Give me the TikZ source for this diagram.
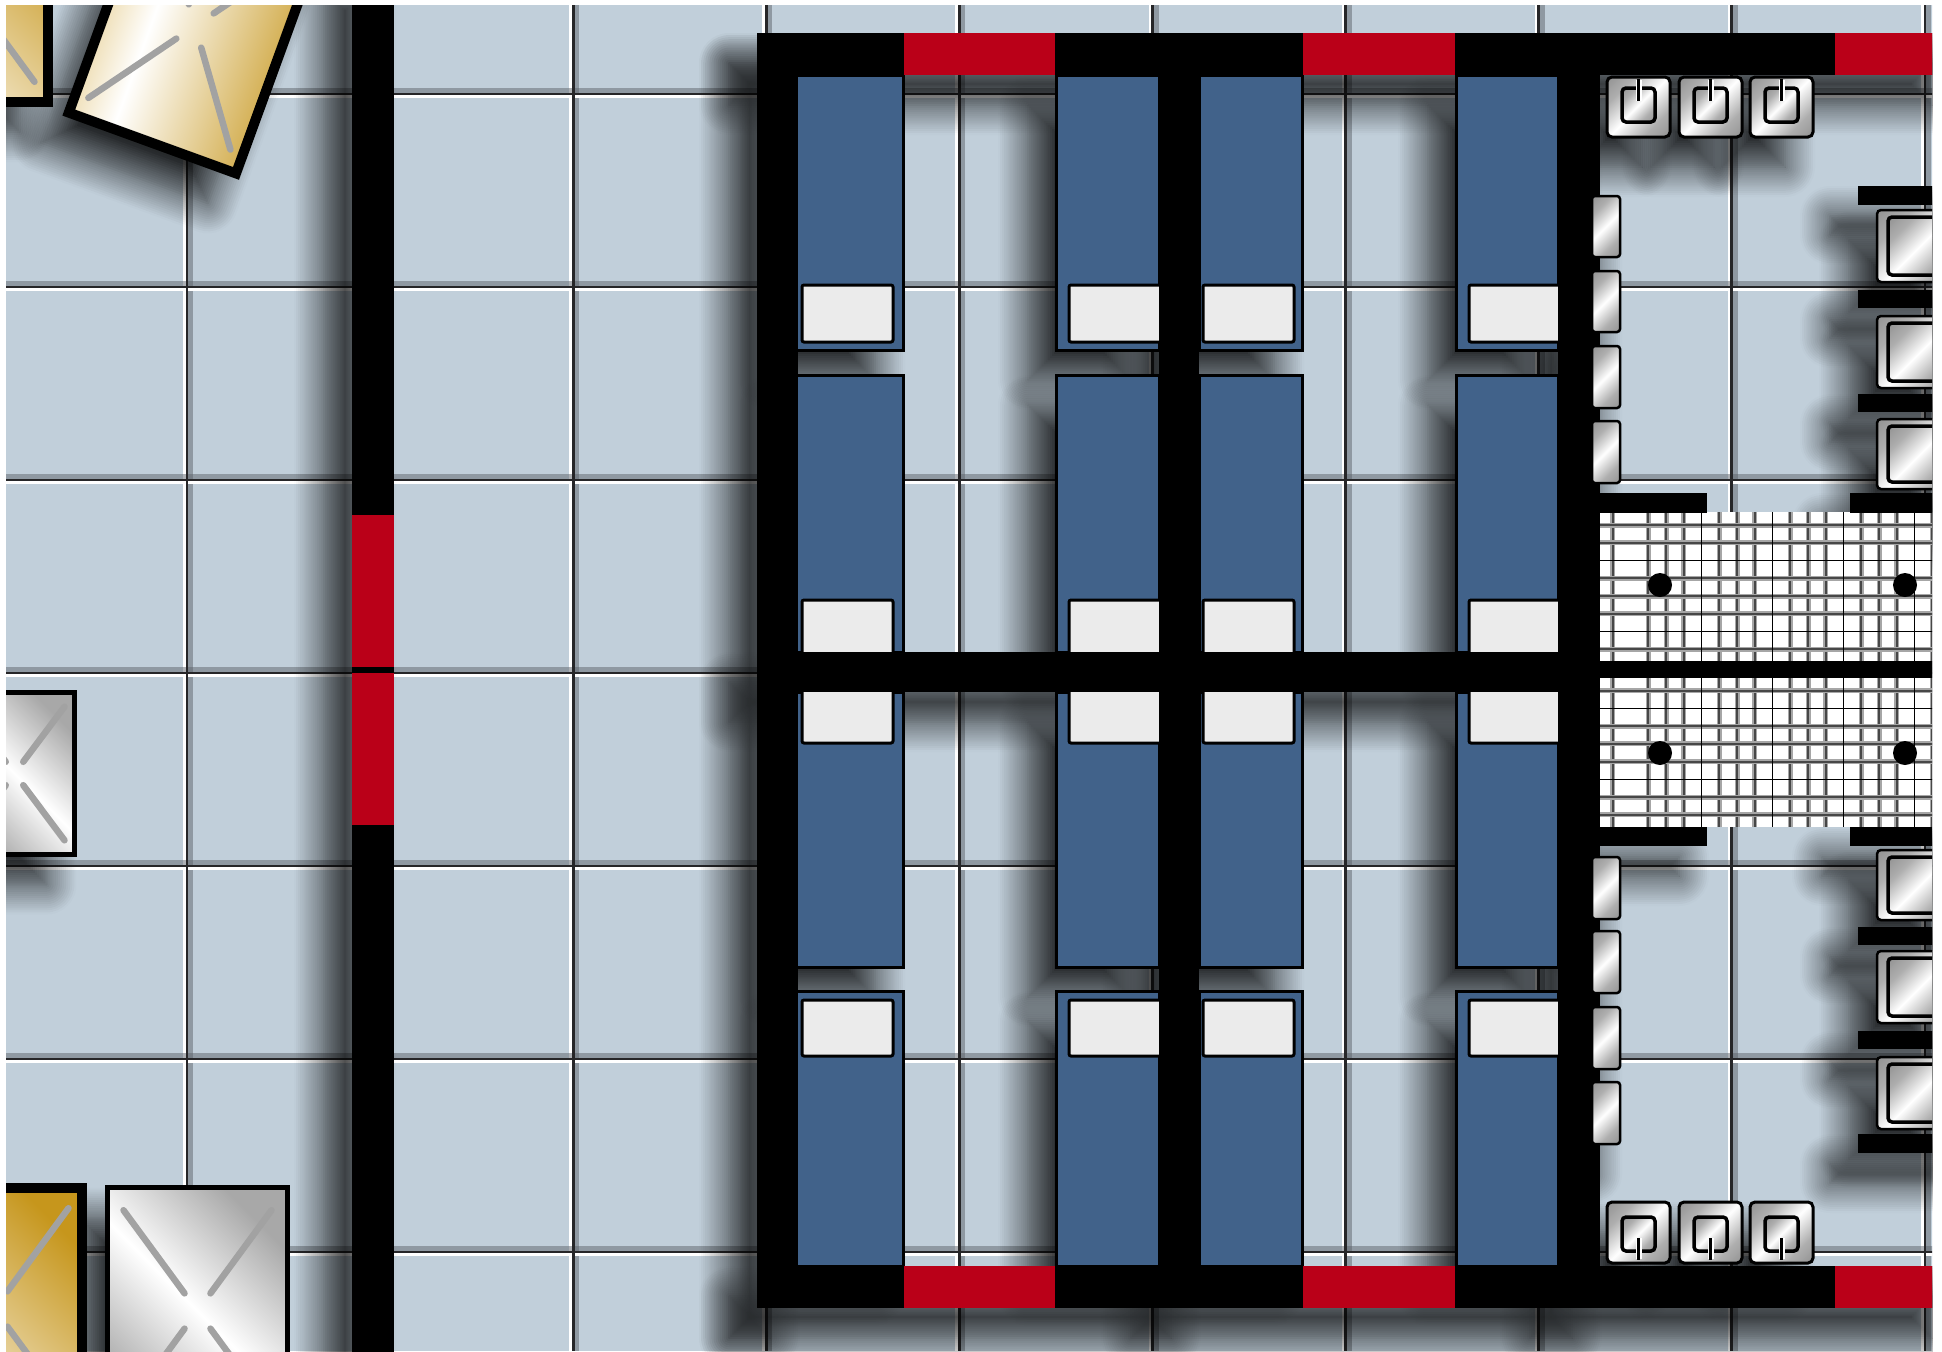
\documentclass[tikz,border=0pt]{standalone}
\usetikzlibrary{calc,shadows.blur}
\newdimen\pxl
\pxl=0.01cm
\definecolor{tile}{RGB}{193,207,218}
\definecolor{grout}{RGB}{38,38,40}
\definecolor{groutshade}{RGB}{95,100,108}
\definecolor{bedblue}{RGB}{65,98,138}
\definecolor{pillow}{RGB}{235,235,235}
\definecolor{doorred}{RGB}{186,0,24}
\definecolor{goldA}{RGB}{198,150,28}
\definecolor{goldB}{RGB}{225,195,120}
\definecolor{silverA}{RGB}{168,168,168}
\definecolor{chromeA}{RGB}{120,120,120}
\definecolor{spoke}{RGB}{162,162,162}
\pgfdeclarehorizontalshading{goldbar}{100bp}{color(0bp)=(goldB); color(25bp)=(goldB); color(42bp)=(white); color(75bp)=(goldA); color(100bp)=(goldA)}
\pgfdeclarehorizontalshading{goldfade}{100bp}{color(0bp)=(white!80!goldB); color(25bp)=(white!80!goldB); color(75bp)=(goldA); color(100bp)=(goldA)}
\pgfdeclarehorizontalshading{silver}{100bp}{color(0bp)=(silverA); color(25bp)=(silverA); color(50bp)=(white); color(75bp)=(silverA); color(100bp)=(silverA)}
\pgfdeclarehorizontalshading{chrome}{100bp}{color(0bp)=(chromeA); color(30bp)=(chromeA!60!white); color(50bp)=(white); color(70bp)=(chromeA!60!white); color(100bp)=(chromeA)}
\tikzset{
  castshadow/.style={blur shadow={shadow xshift=-28\pxl, shadow yshift=-30\pxl,
      shadow blur radius=30\pxl, shadow blur steps=15, shadow opacity=100}},
  wall/.style={fill=black},
  door/.style={fill=doorred},
  bed/.style={fill=bedblue, draw=black, line width=3\pxl},
  pillowbox/.style={fill=pillow, draw=black, line width=3\pxl, rounded corners=2\pxl},
  chromefill/.style={shade, shading=chrome, shading angle=-45},
  fixture/.style={chromefill, draw=black, line width=2.5\pxl, rounded corners=4\pxl},
  innerbox/.style={chromefill, draw=black, line width=3.5\pxl, rounded corners=4\pxl},
  spokeline/.style={draw=spoke, line width=6.5\pxl, line cap=round},
  goldcrate/.style={shade, draw=black, line width=10\pxl, line join=miter},
  silvercrate/.style={shade, shading=silver, shading angle=45, draw=black, line width=5\pxl},
  minorline/.style={draw=black!72, line width=2\pxl, preaction={draw=black!35, line width=5\pxl}},
  majorline/.style={draw=black, line width=1.3\pxl},
}
% the four spokes of a crate lid: centre, then the four outer corners
\newcommand\crossspokes[5]{%
  \foreach \cc in {#2,#3,#4,#5}{\draw[spokeline] ($(#1)!0.14!(\cc)$) -- ($(#1)!0.8!(\cc)$);}}
% geometry shared by the shadow pass and the drawing pass
\def\wallrects{757/33/1960/75, 757/1266/1960/1308, 757/33/798/1308, 1159/33/1199/1308,
  1558/33/1600/1308, 757/652/1600/692, 352/-40/394/1400}
\def\bedcols{796/903, 1056/1159, 1199/1302, 1456/1558}
\def\bedrows{75/350, 375/652, 692/967, 991/1266}
\def\sinkxs{1607, 1679, 1750}
\def\lockerys{196/257, 271/332, 346/408, 421/483, 857/919, 931/993, 1007/1069, 1082/1144}
\def\boxys{210/282, 316/388, 419/489, 850/920, 951/1023, 1057/1129}
\def\barys{186/205, 290/308, 394/412, 927/945, 1031/1049, 1134/1153}
\def\stubrects{1593/493/1707/513, 1850/493/1960/513, 1593/827/1707/846, 1850/827/1960/846}
\begin{document}
\begin{tikzpicture}[x=0.01cm, y=-0.01cm]
\useasboundingbox (0,0) rectangle (1942,1351);
\fill[white] (0,0) rectangle (1942,1351);
\begin{scope}
\clip (6,5) rectangle (1932,1351);
% ---------------- tiled floor
\fill[tile] (0,0) rectangle (1942,1351);
\foreach \k in {0,...,9}{\pgfmathsetmacro\gx{187+193.1*\k}
  \fill[white] (\gx-4,0) rectangle (\gx-1.4,1351);
  \fill[groutshade, opacity=.5] (\gx+1.4,0) rectangle (\gx+6,1351);}
\foreach \k in {0,...,6}{\pgfmathsetmacro\gy{94+193*\k}
  \fill[groutshade, opacity=.5] (0,\gy-6) rectangle (1942,\gy-1.4);
  \fill[white] (0,\gy+1.4) rectangle (1942,\gy+4);}
\foreach \k in {0,...,9}{\pgfmathsetmacro\gx{187+193.1*\k}
  \fill[grout] (\gx-1.4,0) rectangle (\gx+1.4,1351);}
\foreach \k in {0,...,6}{\pgfmathsetmacro\gy{94+193*\k}
  \fill[grout] (0,\gy-1.4) rectangle (1942,\gy+1.4);}
% ---------------- crate corner points
\coordinate (ca-c) at (-39.5,-19);
\coordinate (ca-1) at (-132,-145); \coordinate (ca-2) at (53,-145);
\coordinate (ca-3) at (53,107);   \coordinate (ca-4) at (-132,107);
\coordinate (cb-c) at (195,26);
\coordinate (cb-1) at (150.7,-128.5); \coordinate (cb-2) at (328.3,-63.9);
\coordinate (cb-3) at (239.3,180.5);  \coordinate (cb-4) at (61.7,115.9);
\coordinate (cb-i1) at (154.0,-121.4); \coordinate (cb-i2) at (321.2,-60.6);
\coordinate (cb-i3) at (236.0,173.4);  \coordinate (cb-i4) at (68.8,112.6);
\coordinate (cc-c) at (14.5,773.5);
\coordinate (cc-1) at (-48,690); \coordinate (cc-2) at (77,690);
\coordinate (cc-3) at (77,857);  \coordinate (cc-4) at (-48,857);
\coordinate (cd-c) at (-5.5,1309);
\coordinate (cd-1) at (-98,1183); \coordinate (cd-2) at (87,1183);
\coordinate (cd-3) at (87,1435);  \coordinate (cd-4) at (-98,1435);
\coordinate (ce-c) at (197.5,1311);
\coordinate (ce-1) at (105,1185); \coordinate (ce-2) at (290,1185);
\coordinate (ce-3) at (290,1437); \coordinate (ce-4) at (105,1437);
% ---------------- cast shadows, all in one group
\begin{scope}[transparency group, opacity=0.8]
  \foreach \a/\b/\c/\d in \wallrects {\path[castshadow] (\a,\b) rectangle (\c,\d);}
  \foreach \xa/\xb in \bedcols {\foreach \ya/\yb in \bedrows {\path[castshadow] (\xa,\ya) rectangle (\xb,\yb);}}
  \path[castshadow] (-127,-140) rectangle (48,102);
  \path[castshadow] (cb-i1) -- (cb-i2) -- (cb-i3) -- (cb-i4) -- cycle;
  \path[castshadow] (-45.5,692.5) rectangle (74.5,854.5);
  \path[castshadow] (-93,1188) rectangle (82,1430);
  \path[castshadow] (107.5,1187.5) rectangle (287.5,1434.5);
  \foreach \sx in \sinkxs {\path[castshadow] (\sx,77) rectangle (\sx+63,137);
    \path[castshadow] (\sx,1202) rectangle (\sx+63,1263);}
  \foreach \ya/\yb in \lockerys {\path[castshadow] (1592,\ya) rectangle (1620,\yb);}
  \foreach \ya/\yb in \boxys {\path[castshadow] (1877,\ya) rectangle (1965,\yb);}
  \foreach \ya/\yb in \barys {\path[castshadow] (1858,\ya) rectangle (1965,\yb);}
  \foreach \a/\b/\c/\d in \stubrects {\path[castshadow] (\a,\b) rectangle (\c,\d);}
\end{scope}
% ---------------- drain grating
\fill[white] (1592,512) rectangle (1960,827);
\begin{scope}
  \clip (1592,512) rectangle (1960,827);
  \foreach \k in {2,3,5,6,7,9,10,11,13,14,15,17,18,19,21}{\pgfmathsetmacro\gx{1559.7+17.75*\k}
    \draw[minorline] (\gx,512) -- (\gx,827);}
  \foreach \m in {-1,1,2,3,5,6}{\pgfmathsetmacro\gu{631.7-17.75*\m}\pgfmathsetmacro\gl{708.3+17.75*\m}
    \draw[minorline] (1592,\gu) -- (1960,\gu);
    \draw[minorline] (1592,\gl) -- (1960,\gl);}
  \foreach \k in {8,12,16,20}{\pgfmathsetmacro\gx{1559.7+17.75*\k}
    \draw[majorline] (\gx,512) -- (\gx,827);}
  \foreach \gy in {560.7,631.7,708.3,779.3}{\draw[majorline] (1592,\gy) -- (1960,\gy);}
\end{scope}
\foreach \dx in {1660,1905}{\foreach \dy in {585,753}{\fill (\dx,\dy) circle[radius=12\pxl];}}
\fill (1592,661) rectangle (1960,678);
% ---------------- beds
\foreach \xa/\xb in \bedcols {\foreach \ya/\yb in \bedrows {\path[bed] (\xa,\ya) rectangle (\xb,\yb);}}
\foreach \pa/\pb in {802/893, 1069/1162, 1203/1294, 1469/1561}{
  \path[pillowbox] (\pa,285) rectangle (\pb,342);
  \path[pillowbox] (\pa,600) rectangle (\pb,656);
  \path[pillowbox] (\pa,688) rectangle (\pb,743);
  \path[pillowbox] (\pa,1000) rectangle (\pb,1056);}
% ---------------- crates
\path[goldcrate, shading=goldfade, shading angle=45] (-127,-140) rectangle (48,102);
\crossspokes{ca-c}{ca-1}{ca-2}{ca-3}{ca-4}
\path[goldcrate, shading=goldbar, shading angle=-20] (cb-i1) -- (cb-i2) -- (cb-i3) -- (cb-i4) -- cycle;
\crossspokes{cb-c}{cb-1}{cb-2}{cb-3}{cb-4}
\path[silvercrate] (-45.5,692.5) rectangle (74.5,854.5);
\crossspokes{cc-c}{cc-1}{cc-2}{cc-3}{cc-4}
\path[goldcrate, shading=goldfade, shading angle=45] (-93,1188) rectangle (82,1430);
\crossspokes{cd-c}{cd-1}{cd-2}{cd-3}{cd-4}
\path[silvercrate] (107.5,1187.5) rectangle (287.5,1434.5);
\crossspokes{ce-c}{ce-1}{ce-2}{ce-3}{ce-4}
% ---------------- walls and openings
\foreach \a/\b/\c/\d in \wallrects {\path[wall] (\a,\b) rectangle (\c,\d);}
\foreach \da/\db in {904/1055, 1303/1455, 1835/1960}{
  \path[door] (\da,33) rectangle (\db,75);
  \path[door] (\da,1266) rectangle (\db,1308);}
\path[door] (352,515) rectangle (394,667);
\path[door] (352,673) rectangle (394,825);
% ---------------- washroom fittings
\foreach \a/\b/\c/\d in \stubrects {\path[wall] (\a,\b) rectangle (\c,\d);}
\foreach \ya/\yb in \barys {\path[wall] (1858,\ya) rectangle (1965,\yb);}
\foreach \ya/\yb in \lockerys {\path[fixture, rounded corners=3\pxl] (1592,\ya) rectangle (1620,\yb);}
\foreach \ya/\yb in \boxys {
  \path[fixture] (1877,\ya) rectangle (1965,\yb);
  \path[innerbox] (1888,\ya+7) rectangle (1952,\yb-7);}
\foreach \sx in \sinkxs {
  \path[fixture, line width=3\pxl, rounded corners=5\pxl] (\sx,77) rectangle (\sx+63,137);
  \path[innerbox] (\sx+15,88) rectangle (\sx+48,122);
  \draw[white, line width=6\pxl] (\sx+31.5,80) -- (\sx+31.5,101);
  \draw[black, line width=2.8\pxl] (\sx+31.5,79) -- (\sx+31.5,101);
  \path[fixture, line width=3\pxl, rounded corners=5\pxl] (\sx,1202) rectangle (\sx+63,1263);
  \path[innerbox] (\sx+15,1217) rectangle (\sx+48,1251);
  \draw[white, line width=6\pxl] (\sx+31.5,1238) -- (\sx+31.5,1259);
  \draw[black, line width=2.8\pxl] (\sx+31.5,1238) -- (\sx+31.5,1260);}
\end{scope}
\end{tikzpicture}
\end{document}
